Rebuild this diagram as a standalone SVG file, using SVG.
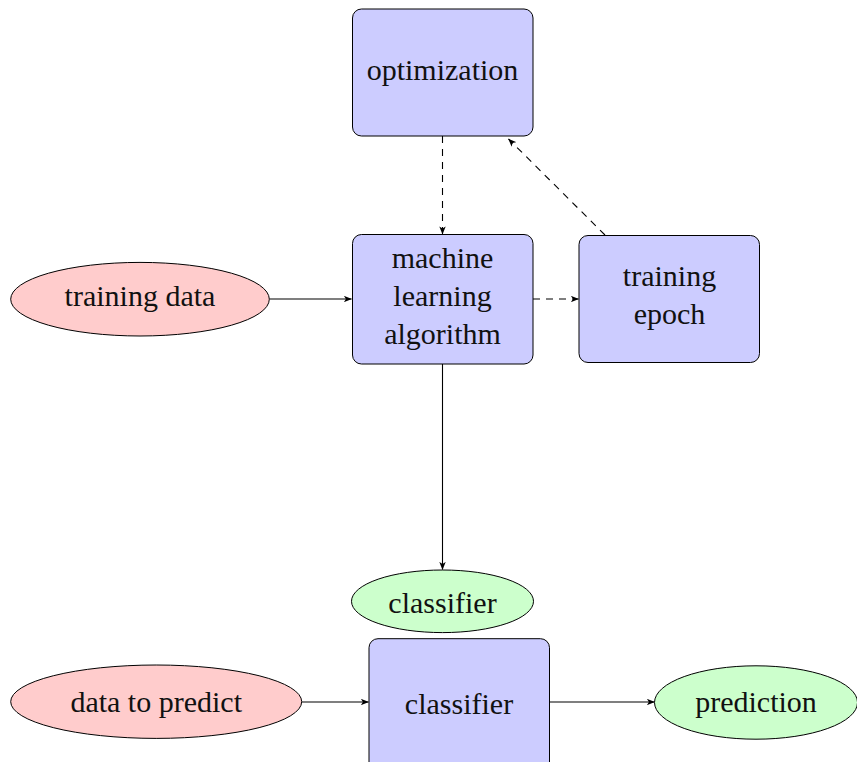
<svg xmlns="http://www.w3.org/2000/svg" width="857" height="762" viewBox="0 0 857 762">
<style>
.box{fill:#ccccff;stroke:#000;stroke-width:1}
.red{fill:#ffcccc;stroke:#000;stroke-width:1}
.green{fill:#ccffcc;stroke:#000;stroke-width:1}
.edge{fill:none;stroke:#000;stroke-width:1.1;marker-end:url(#ah)}
.dash{stroke-dasharray:7,6}
</style>
<defs>
<marker id="ah" viewBox="0 0 10 8" refX="9.5" refY="4" markerWidth="8" markerHeight="6.4" markerUnits="userSpaceOnUse" orient="auto">
<path d="M0,0 L10,4 L0,8 L2.5,4 Z" fill="#000"/>
</marker>
</defs>
<g id="connectors">
<line class="edge" x1="269.5" y1="299" x2="351.5" y2="299"/>
<line class="edge dash" x1="442.5" y1="136" x2="442.5" y2="234"/>
<line class="edge dash" x1="533" y1="299" x2="578.5" y2="299"/>
<line class="edge dash" x1="605" y1="235" x2="508.5" y2="139"/>
<line class="edge" x1="442.5" y1="364" x2="442.5" y2="569.5"/>
<line class="edge" x1="302" y1="702" x2="368.5" y2="702"/>
<line class="edge" x1="549.5" y1="702" x2="654.5" y2="702"/>
</g>
<g font-family="'Liberation Serif', 'DejaVu Serif', 'Times New Roman', serif" font-size="30" fill="#111" text-anchor="middle">
<g id="optimization">
<rect class="box" x="352.5" y="9" width="180.5" height="127" rx="9"/>
<text x="442.5" y="80">optimization</text>
</g>
<g id="ml">
<rect class="box" x="352.5" y="234.5" width="180.5" height="129.5" rx="9"/>
<text x="442.5" y="268">machine</text>
<text x="442.5" y="306">learning</text>
<text x="442.5" y="344">algorithm</text>
</g>
<g id="epoch">
<rect class="box" x="579" y="235.5" width="180.5" height="127" rx="9"/>
<text x="669.5" y="286">training</text>
<text x="669.5" y="324">epoch</text>
</g>
<g id="trainingdata">
<ellipse class="red" cx="140" cy="299.2" rx="129.3" ry="36.8"/>
<text x="140" y="306">training data</text>
</g>
<g id="classifier_out">
<ellipse class="green" cx="442.5" cy="601.3" rx="91" ry="31.3"/>
<text x="442.5" y="613">classifier</text>
</g>
<g id="classifier_box">
<rect class="box" x="369" y="638.7" width="180.5" height="140" rx="9"/>
<text x="459" y="714">classifier</text>
</g>
<g id="datatopredict">
<ellipse class="red" cx="156.2" cy="701.7" rx="145.5" ry="36.7"/>
<text x="156.2" y="712">data to predict</text>
</g>
<g id="prediction">
<ellipse class="green" cx="756" cy="702.5" rx="101.5" ry="36.7"/>
<text x="756" y="712">prediction</text>
</g>
</g>
</svg>
